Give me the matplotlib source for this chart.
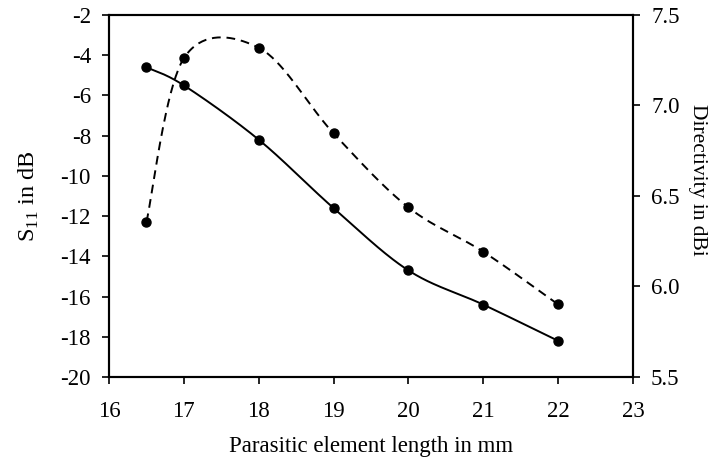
import numpy as np
import matplotlib.pyplot as plt

plt.rcParams['font.family'] = ['Liberation Serif', 'DejaVu Serif']
plt.rcParams['mathtext.fontset'] = 'custom'
plt.rcParams['mathtext.rm'] = 'Liberation Serif'
plt.rcParams['axes.unicode_minus'] = False

length_mm = [16.5, 17, 18, 19, 20, 21, 22]
s11_db = [-4.6, -5.5, -8.2, -11.6, -14.7, -16.4, -18.2]
directivity_dbi = [6.356, 7.261, 7.319, 6.846, 6.437, 6.192, 5.901]


def smooth(x, y, n=40):
    # Excel-style smoothed line (Catmull-Rom as cubic Bezier)
    p = np.column_stack([x, y]).astype(float)
    pts = [p[0]]
    for i in range(len(p) - 1):
        p0 = p[i - 1] if i > 0 else p[i]
        p3 = p[i + 2] if i + 2 < len(p) else p[i + 1]
        c1 = p[i] + (p[i + 1] - p0) / 6
        c2 = p[i + 1] - (p3 - p[i]) / 6
        t = np.linspace(0, 1, n)[1:, None]
        seg = ((1 - t) ** 3) * p[i] + 3 * ((1 - t) ** 2) * t * c1 \
            + 3 * (1 - t) * t ** 2 * c2 + t ** 3 * p[i + 1]
        pts.extend(seg)
    pts = np.array(pts)
    return pts[:, 0], pts[:, 1]


fig = plt.figure(figsize=(7.12, 4.61), dpi=100)
ax = fig.add_axes([0.1531, 0.1822, 0.7359, 0.7853])
ax2 = ax.twinx()

sx, sy = smooth(length_mm, s11_db)
ax.plot(sx, sy, color='black', lw=1.4)
ax.plot(length_mm, s11_db, 'o', color='black', ms=6.5)

dx, dy = smooth(length_mm, directivity_dbi)
ax2.plot(dx, dy, color='black', lw=1.4, dashes=(4.5, 3))
ax2.plot(length_mm, directivity_dbi, 'o', color='black', ms=6.5)

ax.set_xlim(16, 23)
ax.set_ylim(-20, -2)
ax2.set_ylim(5.5, 7.5)
ax.set_xticks(range(16, 24))
ax.set_yticks(range(-20, -1, 2))
ax2.set_yticks([5.5, 6.0, 6.5, 7.0, 7.5])
ax2.set_yticklabels(['5.5', '6.0', '6.5', '7.0', '7.5'])

for a in (ax, ax2):
    a.tick_params(direction='out', length=5, width=1.2, labelsize=16.5,
                  colors='black', pad=8)
    for s in a.spines.values():
        s.set_linewidth(1.5)
ax.tick_params(axis='x', pad=12)

ax.set_xlabel('Parasitic element length in mm', fontsize=16.5, labelpad=10)
ax.set_ylabel(r'S$_{\mathregular{11}}$ in dB', fontsize=17.5, labelpad=14)
fig.text(697 / 712, 1 - 180 / 461, 'Directivity in dBi', fontsize=15.5,
         rotation=270, ha='center', va='center')

fig.savefig('out.png', dpi=100)
